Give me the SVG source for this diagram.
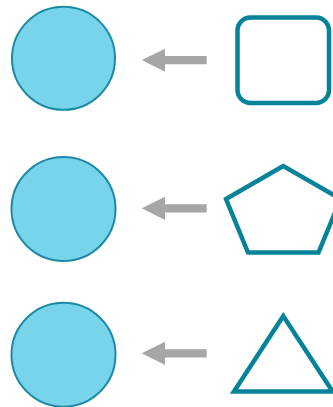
<svg xmlns="http://www.w3.org/2000/svg" width="333" height="407" viewBox="0 0 333 407">
<style>
.c{fill:#78d4ea;stroke:#1d8aa3;stroke-width:2}
.s{fill:none;stroke:#068398;stroke-width:4.5;stroke-linejoin:miter}
.a{fill:#a6a6a6}
</style>
<rect width="333" height="407" fill="#fff"/>
<g id="circle1"><circle class="c" cx="63.5" cy="58.3" r="51.5"/></g>
<g id="circle2"><circle class="c" cx="63.5" cy="209" r="52"/></g>
<g id="circle3"><circle class="c" cx="63.5" cy="354.7" r="52"/></g>
<g id="rect"><rect class="s" x="237.5" y="17.5" width="91.5" height="85.5" rx="13"/></g>
<g id="pentagon"><polygon class="s" points="283.3,166 226,199 248,252.5 318.5,252.5 340.6,199"/></g>
<g id="triangle"><polygon class="s" points="283.3,316 234,391.5 332.6,391.5"/></g>
<g id="connectors">
<polygon class="a" points="141.7,60 165,48.7 165,56 206.7,56 206.7,64.3 165,64.3 165,71.7"/>
<polygon class="a" points="141.7,208.3 165,196.7 165,204.2 206.7,204.2 206.7,212.5 165,212.5 165,220"/>
<polygon class="a" points="141.7,353.3 165,341.7 165,349.2 206.7,349.2 206.7,357.5 165,357.5 165,365"/>
</g>
</svg>
